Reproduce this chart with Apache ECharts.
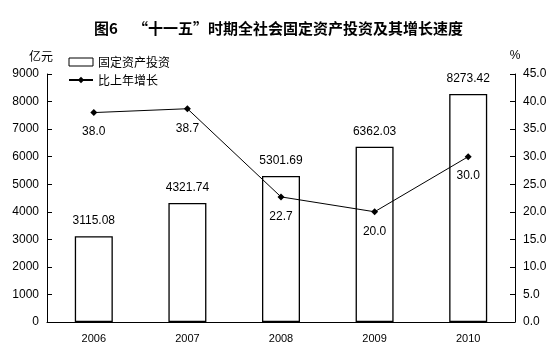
<!DOCTYPE html>
<html>
<head>
<meta charset="utf-8">
<script src="https://cdn.jsdelivr.net/npm/echarts@6/dist/echarts.min.js"></script>
<style>
html, body { margin: 0; padding: 0; background: #fff; }
#chart { width: 557px; height: 355px; }
</style>
</head>
<body>
<div id="chart"></div>
<script>
// 数据
var years = ['2006', '2007', '2008', '2009', '2010'];
var investment = [3115.08, 4321.74, 5301.69, 6362.03, 8273.42];
var growth = [38.0, 38.7, 22.7, 20.0, 30.0];

var numFont = 'Liberation Sans, Arial, sans-serif';
var cnFont = 'Noto Sans CJK SC, sans-serif';

var chart = echarts.init(document.getElementById('chart'));
chart.setOption({
	backgroundColor: '#fff',
	animation: false,
	title: {
		text: '图6　“十一五”时期全社会固定资产投资及其增长速度',
		left: 'center',
		top: 16,
		textStyle: { color: '#000', fontSize: 15, fontWeight: 'bold', fontFamily: cnFont }
	},
	legend: {
		orient: 'vertical',
		left: 63,
		top: 51,
		itemWidth: 24,
		itemHeight: 8,
		itemGap: 6,
		textStyle: { color: '#000', fontSize: 12, fontFamily: cnFont },
		data: [
			{ name: '固定资产投资', icon: 'rect', itemStyle: { color: '#fff', borderColor: '#000', borderWidth: 1 } },
			{ name: '比上年增长' }
		]
	},
	grid: { left: 47, right: 42, top: 74, bottom: 33 },
	xAxis: {
		type: 'category',
		data: years,
		axisLine: { lineStyle: { color: '#000', width: 1 } },
		axisTick: { inside: true, length: 5, lineStyle: { color: '#000' } },
		axisLabel: { color: '#000', fontSize: 11, fontFamily: numFont, margin: 11 }
	},
	yAxis: [{
		type: 'value',
		name: '亿元',
		nameGap: 12,
		nameTextStyle: { color: '#000', fontSize: 12, fontFamily: cnFont, padding: [0, 12, 0, 0] },
		min: 0, max: 9000, interval: 1000,
		splitLine: { show: false },
		axisLine: { show: true, lineStyle: { color: '#000' } },
		axisTick: { show: true, inside: true, length: 5, lineStyle: { color: '#000' } },
		axisLabel: { color: '#000', fontSize: 12, fontFamily: numFont, margin: 8, formatter: function (v) { return String(v); } }
	}, {
		type: 'value',
		name: '%',
		nameGap: 12,
		nameTextStyle: { color: '#000', fontSize: 12, fontFamily: numFont },
		min: 0, max: 45, interval: 5,
		splitLine: { show: false },
		axisLine: { show: true, lineStyle: { color: '#000' } },
		axisTick: { show: true, inside: true, length: 5, lineStyle: { color: '#000' } },
		axisLabel: { color: '#000', fontSize: 12, fontFamily: numFont, margin: 8, formatter: function (v) { return v.toFixed(1); } }
	}],
	series: [{
		name: '固定资产投资',
		type: 'bar',
		data: investment,
		barWidth: 38,
		itemStyle: { color: '#fff', borderColor: '#000', borderWidth: 1.3 },
		label: {
			show: true, position: 'top', distance: 9,
			color: '#000', fontSize: 12, fontFamily: numFont,
			formatter: function (p) { return p.value.toFixed(2); }
		},
		z: 2
	}, {
		name: '比上年增长',
		type: 'line',
		yAxisIndex: 1,
		data: growth,
		symbol: 'diamond',
		symbolSize: 7,
		lineStyle: { color: '#000', width: 1 },
		itemStyle: { color: '#000' },
		label: {
			show: true, position: 'bottom', distance: 10,
			color: '#000', fontSize: 12, fontFamily: numFont,
			formatter: function (p) { return p.value.toFixed(1); }
		},
		z: 3
	}]
});
</script>
</body>
</html>
